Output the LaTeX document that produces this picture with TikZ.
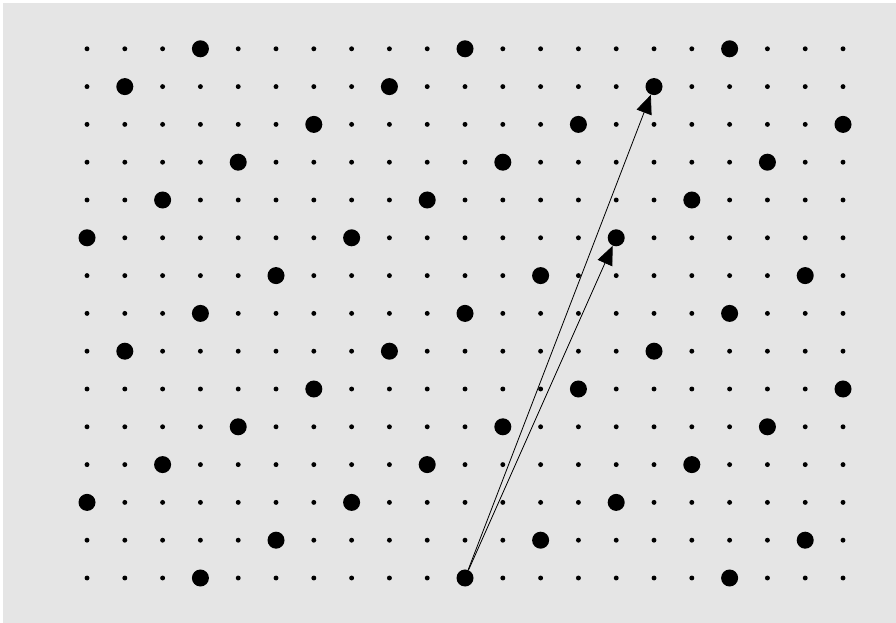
\documentclass[tikz,border=0pt]{standalone}
\usetikzlibrary{arrows.meta}
\begin{document}
\begin{tikzpicture}
\tikzset{petit/.style={circle,fill=black,inner sep=0pt,minimum size=0.13cm},
gros/.style={circle,fill=black,inner sep=0pt,minimum size=0.45cm},
lien/.style={-{Triangle[length=0.5cm,width=0.42cm]},line width=0.6pt}}
\useasboundingbox (0,0) rectangle (23.704,16.481);
\fill[black!10] (0.079,0) rectangle (23.704,16.402);
\begin{scope}[shift={(2.302,1.190)}]
\foreach \i in {0,...,20}
  \foreach \j in {0,...,14}{
    \pgfmathtruncatemacro{\r}{mod(\i-3-2*\j+70,7)}
    \ifnum\r=0
      \node[gros] (p-\i-\j) at (\i,\j){};
    \else
      \node[petit] (p-\i-\j) at (\i,\j){};
    \fi
  }
\end{scope}

\draw[lien] (p-10-0) -- (p-15-13);
\draw[lien] (p-10-0) -- (p-14-9);
\end{tikzpicture}
\end{document}
